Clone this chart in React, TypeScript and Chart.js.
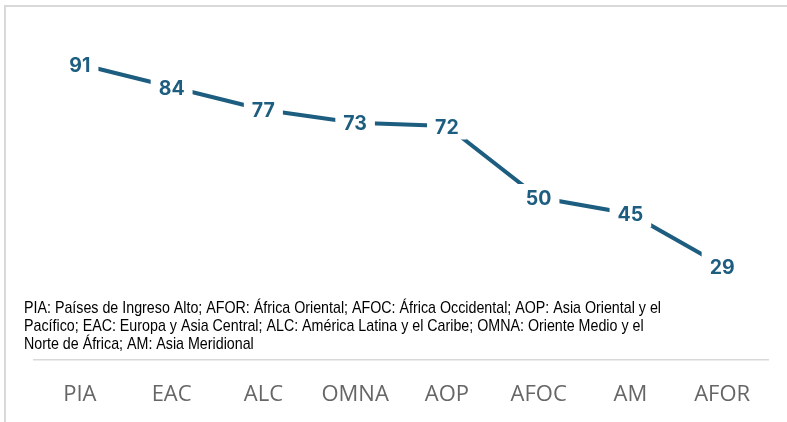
import React, { useEffect, useRef } from "react";
import { Chart, registerables } from "chart.js";

Chart.register(...registerables);

// Regions, ordered from highest to lowest value
const regions: string[] = ["PIA", "EAC", "ALC", "OMNA", "AOP", "AFOC", "AM", "AFOR"];
const values: number[] = [91, 84, 77, 73, 72, 50, 45, 29];

const footnoteLines: string[] = [
  "PIA: Países de Ingreso Alto; AFOR: África Oriental; AFOC: África Occidental; AOP: Asia Oriental y el",
  "Pacífico; EAC: Europa y Asia Central; ALC: América Latina y el Caribe; OMNA: Oriente Medio y el",
  "Norte de África; AM: Asia Meridional",
];

const LINE_COLOR = "#1d5e80";

// Value labels sit on the line with a white box that interrupts it
const valueLabelPlugin = {
  id: "valueLabels",
  afterDatasetsDraw(chart: any) {
    const ctx = chart.ctx as CanvasRenderingContext2D;
    const meta = chart.getDatasetMeta(0);
    const data = chart.data.datasets[0].data as number[];
    ctx.save();
    ctx.font = "bold 19.5px Inter, 'Liberation Sans', sans-serif";
    ctx.textAlign = "center";
    ctx.textBaseline = "alphabetic";
    meta.data.forEach((pt: any, i: number) => {
      const text = String(data[i]);
      const m = ctx.measureText(text);
      const w = m.width;
      const asc = m.actualBoundingBoxAscent;
      const desc = m.actualBoundingBoxDescent;
      const h = asc + desc;
      const baseline = pt.y + asc - h / 2;
      const padX = 8;
      const padY = 6;
      ctx.fillStyle = "#ffffff";
      ctx.fillRect(pt.x - w / 2 - padX, pt.y - h / 2 - padY, w + padX * 2, h + padY * 2);
      ctx.fillStyle = LINE_COLOR;
      ctx.fillText(text, pt.x, baseline);
    });
    ctx.restore();
  },
};

// Abbreviation key drawn inside the plot, just above the category axis,
// in a condensed face (regular sans compressed horizontally)
const footnotePlugin = {
  id: "footnote",
  afterDraw(chart: any) {
    const ctx = chart.ctx as CanvasRenderingContext2D;
    ctx.save();
    ctx.font = "17px 'Liberation Sans', Arial, sans-serif";
    ctx.fillStyle = "#000000";
    ctx.textAlign = "left";
    ctx.textBaseline = "alphabetic";
    const natural = ctx.measureText(footnoteLines[0]).width;
    const sx = 637 / natural;
    const left = 24;
    const baselines = [313, 331, 349];
    footnoteLines.forEach((line, i) => {
      ctx.save();
      ctx.translate(left, baselines[i]);
      ctx.scale(sx, 1);
      ctx.fillText(line, 0, 0);
      ctx.restore();
    });
    ctx.restore();
  },
};

export default function App() {
  const canvasRef = useRef<HTMLCanvasElement | null>(null);

  useEffect(() => {
    const canvas = canvasRef.current;
    if (!canvas) return;
    const chart = new Chart(canvas, {
      type: "line",
      data: {
        labels: regions,
        datasets: [
          {
            data: values,
            borderColor: LINE_COLOR,
            borderWidth: 4,
            pointRadius: 0,
            pointHoverRadius: 0,
            tension: 0,
            fill: false,
          },
        ],
      },
      options: {
        responsive: false,
        animation: false,
        devicePixelRatio: 1,
        layout: { padding: { left: 34, right: 19, top: 35, bottom: 0 } },
        plugins: {
          legend: { display: false },
          title: { display: false },
          tooltip: { enabled: false },
        },
        scales: {
          x: {
            offset: true,
            grid: { display: false, drawTicks: false },
            border: { display: true, color: "#d9d9d9", width: 1.5 },
            ticks: {
              color: "#666666",
              padding: 22,
              font: { family: "'Open Sans', Lato, sans-serif", size: 22 },
              maxRotation: 0,
              autoSkip: false,
            },
            afterFit(scale: any) {
              scale.height = 62;
            },
          },
          y: {
            display: false,
            min: 0,
            max: 100,
          },
        },
      },
      plugins: [valueLabelPlugin, footnotePlugin],
    });
    return () => chart.destroy();
  }, []);

  return (
    <div
      style={{
        position: "absolute",
        left: 0,
        top: 0,
        width: 787,
        height: 422,
        background: "#ffffff",
        overflow: "hidden",
      }}
    >
      <div
        style={{
          position: "absolute",
          left: 4,
          top: 5,
          width: 800,
          height: 430,
          borderTop: "2px solid #d9d9d9",
          borderLeft: "2px solid #d9d9d9",
        }}
      />
      <canvas
        ref={canvasRef}
        width={787}
        height={422}
        style={{ position: "absolute", left: 0, top: 0, width: 787, height: 422 }}
      />
    </div>
  );
}
